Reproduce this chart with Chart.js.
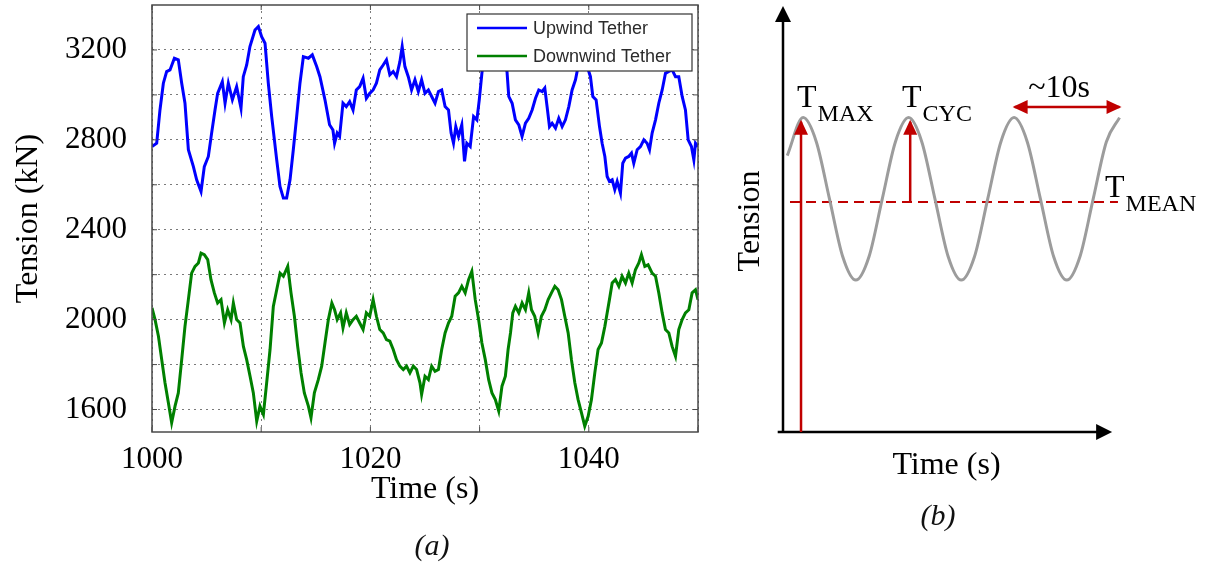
<!DOCTYPE html>
<html>
<head>
<meta charset="utf-8">
<title>Tether tension</title>
<script src="https://cdn.jsdelivr.net/npm/chart.js@4.4.1/dist/chart.umd.min.js"></script>
<style>
  body { margin: 0; background: #fff; }
  #wrap { position: relative; width: 1210px; height: 565px; }
  canvas { position: absolute; top: 0; }
  #tensionChart { left: 0; }
  #cycleChart { left: 720px; }
</style>
</head>
<body>
<div id="wrap">
  <canvas id="tensionChart" width="720" height="565"></canvas>
  <canvas id="cycleChart" width="490" height="565"></canvas>
</div>
<script>
// ---- (a) measured tether tension ----
const upTime = [
  1000.00, 1000.43, 1000.73, 1001.04, 1001.34, 1001.65, 1002.05, 1002.41, 1002.72, 1003.02,
  1003.33, 1003.79, 1004.09, 1004.49, 1004.79, 1005.16, 1005.46, 1005.77, 1006.01, 1006.44,
  1006.69, 1006.99, 1007.36, 1007.75, 1008.15, 1008.36, 1008.67, 1008.97, 1009.43, 1009.74,
  1010.04, 1010.35, 1010.65, 1010.96, 1011.42, 1011.72, 1012.03, 1012.33, 1012.64, 1012.94,
  1013.25, 1013.55, 1013.86, 1014.32, 1014.68, 1015.08, 1015.38, 1015.84, 1016.26, 1016.57,
  1016.72, 1016.96, 1017.18, 1017.49, 1017.79, 1018.10, 1018.41, 1018.71, 1019.02, 1019.33,
  1019.63, 1019.94, 1020.25, 1020.55, 1020.86, 1021.17, 1021.47, 1021.78, 1022.09, 1022.39,
  1022.70, 1022.91, 1023.16, 1023.47, 1023.77, 1024.08, 1024.39, 1024.69, 1025.00, 1025.31,
  1025.61, 1025.92, 1026.23, 1026.53, 1026.84, 1027.15, 1027.39, 1027.61, 1027.82, 1028.07,
  1028.37, 1028.62, 1028.83, 1029.14, 1029.45, 1029.75, 1029.97, 1030.21, 1030.46, 1030.90,
  1031.40, 1032.00, 1032.20, 1032.51, 1032.67, 1032.98, 1033.28, 1033.59, 1033.89, 1034.20,
  1034.50, 1034.81, 1035.12, 1035.42, 1035.73, 1035.97, 1036.18, 1036.40, 1036.64, 1036.95,
  1037.25, 1037.56, 1037.86, 1038.17, 1038.47, 1038.78, 1038.93, 1039.30, 1039.60, 1040.00,
  1040.15, 1040.37, 1040.67, 1040.98, 1041.22, 1041.47, 1041.68, 1041.89, 1042.14, 1042.38,
  1042.60, 1042.90, 1043.11, 1043.36, 1043.66, 1043.91, 1044.12, 1044.43, 1044.73, 1045.04,
  1045.34, 1045.56, 1045.80, 1046.11, 1046.41, 1046.72, 1047.02, 1047.33, 1047.63, 1047.94,
  1048.24, 1048.55, 1048.85, 1049.10, 1049.40, 1049.62, 1049.77, 1050.00
];
const upTension = [
  2770, 2785, 2933, 3052, 3104, 3111, 3163, 3156, 3052, 2963,
  2756, 2681, 2622, 2570, 2681, 2726, 2830, 2933, 3007, 3059,
  2963, 3052, 2978, 3037, 2941, 3081, 3133, 3215, 3289, 3304,
  3259, 3230, 3052, 2904, 2711, 2593, 2541, 2541, 2622, 2756,
  2904, 3052, 3170, 3163, 3178, 3126, 3081, 2978, 2867, 2844,
  2785, 2830, 2815, 2963, 2948, 2970, 2933, 3022, 3037, 3074,
  2985, 3007, 3022, 3052, 3111, 3133, 3156, 3089, 3104, 3081,
  3148, 3215, 3126, 3081, 3022, 3067, 3015, 3067, 3007, 3022,
  2993, 2963, 3015, 3022, 2948, 2933, 2830, 2785, 2859, 2815,
  2867, 2704, 2785, 2770, 2904, 2889, 2978, 3096, 3200, 3260,
  3240, 3180, 3150, 3104, 2993, 2963, 2889, 2867, 2815, 2874,
  2896, 2933, 2985, 3022, 3015, 3030, 2948, 2859, 2874, 2852,
  2896, 2859, 2889, 2948, 3022, 3067, 3104, 3190, 3170, 3104,
  3081, 2993, 2978, 2859, 2785, 2726, 2637, 2615, 2622, 2578,
  2615, 2563, 2696, 2719, 2726, 2741, 2696, 2756, 2770, 2800,
  2785, 2756, 2830, 2889, 2963, 3022, 3096, 3104, 3111, 3081,
  3081, 2993, 2933, 2800, 2770, 2711, 2785, 2770
];

const downTime = [
  1000.00, 1000.28, 1000.59, 1000.89, 1001.19, 1001.50, 1001.80, 1002.11, 1002.41, 1002.72,
  1003.02, 1003.33, 1003.63, 1003.94, 1004.25, 1004.49, 1004.79, 1005.10, 1005.40, 1005.71,
  1006.01, 1006.32, 1006.63, 1006.93, 1007.24, 1007.45, 1007.75, 1008.06, 1008.37, 1008.67,
  1008.98, 1009.28, 1009.59, 1009.89, 1010.20, 1010.50, 1010.81, 1011.11, 1011.42, 1011.73,
  1012.03, 1012.43, 1012.73, 1013.04, 1013.34, 1013.65, 1013.95, 1014.32, 1014.56, 1014.87,
  1015.23, 1015.54, 1015.84, 1016.15, 1016.47, 1016.72, 1016.96, 1017.27, 1017.49, 1017.79,
  1018.10, 1018.41, 1018.71, 1019.02, 1019.33, 1019.63, 1019.94, 1020.25, 1020.55, 1020.86,
  1021.17, 1021.47, 1021.78, 1022.09, 1022.39, 1022.70, 1023.01, 1023.31, 1023.62, 1023.93,
  1024.23, 1024.54, 1024.69, 1025.00, 1025.31, 1025.61, 1025.92, 1026.23, 1026.53, 1026.84,
  1027.15, 1027.45, 1027.76, 1028.07, 1028.37, 1028.68, 1028.99, 1029.29, 1029.60, 1029.91,
  1030.21, 1030.52, 1030.83, 1031.13, 1031.44, 1031.75, 1032.05, 1032.36, 1032.61, 1032.83,
  1033.04, 1033.28, 1033.59, 1033.89, 1034.20, 1034.50, 1034.75, 1035.05, 1035.36, 1035.66,
  1035.97, 1036.28, 1036.58, 1036.89, 1037.19, 1037.50, 1037.80, 1038.11, 1038.41, 1038.72,
  1039.02, 1039.33, 1039.63, 1039.94, 1040.24, 1040.55, 1040.85, 1041.16, 1041.47, 1041.68,
  1041.89, 1042.14, 1042.44, 1042.75, 1043.05, 1043.36, 1043.66, 1043.97, 1044.27, 1044.58,
  1044.82, 1045.13, 1045.43, 1045.80, 1046.11, 1046.41, 1046.72, 1047.02, 1047.33, 1047.63,
  1047.94, 1048.24, 1048.55, 1048.85, 1049.16, 1049.46, 1049.77, 1050.00
];
const downTension = [
  2052, 2000, 1926, 1822, 1719, 1630, 1541, 1615, 1674, 1822,
  1970, 2089, 2207, 2237, 2252, 2296, 2289, 2267, 2178, 2119,
  2074, 2089, 1985, 2044, 2000, 2074, 2000, 1985, 1881, 1822,
  1748, 1674, 1548, 1615, 1578, 1719, 1867, 2059, 2133, 2207,
  2193, 2237, 2119, 2015, 1881, 1763, 1674, 1615, 1563, 1674,
  1733, 1793, 1896, 2000, 2074, 2044, 2000, 2030, 1963, 2030,
  1978, 2000, 2015, 1985, 1956, 2030, 2015, 2089, 2015, 1956,
  1941, 1911, 1904, 1867, 1822, 1793, 1778, 1793, 1763, 1793,
  1778, 1719, 1667, 1748, 1733, 1793, 1770, 1778, 1867, 1941,
  1985, 2015, 2104, 2119, 2148, 2119, 2178, 2215, 2089, 2000,
  1896, 1822, 1733, 1674, 1644, 1593, 1704, 1748, 1867, 1941,
  2030, 2059, 2030, 2074, 2044, 2119, 2044, 2015, 1941, 2015,
  2044, 2089, 2119, 2148, 2133, 2089, 2015, 1941, 1822, 1719,
  1644, 1585, 1526, 1570, 1644, 1763, 1867, 1896, 1970, 2030,
  2089, 2163, 2178, 2148, 2193, 2163, 2207, 2163, 2222, 2252,
  2289, 2237, 2244, 2207, 2193, 2119, 2030, 1956, 1941, 1881,
  1837, 1956, 2000, 2030, 2044, 2119, 2133, 2089
];

const timeGrid = [1000, 1010, 1020, 1030, 1040, 1050];
const timeLabels = [1000, 1020, 1040];
const tensionGrid = [1600, 1800, 2000, 2200, 2400, 2600, 2800, 3000, 3200];
const tensionLabels = [1600, 2000, 2400, 2800, 3200];

// ---- (b) idealised tension cycle ----
const cycleTime = [
  0.4, 1.9, 3.14, 4.39, 5.63, 6.87, 8.12, 9.36, 10.61, 11.85, 13.09, 14.34, 15.58,
  16.82, 18.07, 19.31, 20.56, 21.8, 23.04, 24.29, 25.53, 26.77, 28.02, 29.26, 30.51, 31.75
];
const cycleTension = [
  6.55, 7.45, 6.88, 5.52, 4.16, 3.6, 4.16, 5.52, 6.88, 7.45, 6.88, 5.52, 4.16,
  3.6, 4.16, 5.52, 6.88, 7.45, 6.88, 5.52, 4.16, 3.6, 4.16, 5.52, 6.88, 7.45
];
const meanSpan = [0.66, 31.6];
const meanLevel = 5.45;
const peakLevel = 7.35;
const maxArrowTime = 1.7;
const cycArrowTime = 12.0;
const periodSpan = [21.85, 31.75];
const periodLevel = 7.7;
const axisEnd = 31.05;

const serif = "'Liberation Serif', 'DejaVu Serif', serif";
const sans = "'Liberation Sans', Arial, sans-serif";
const red = '#c00000';

const toPoints = (xs, ys) => xs.map((x, i) => ({ x: x, y: ys[i] }));

// fixed axis sizes, no extra room reserved for overhanging labels
const fixWidth = w => s => { s.width = w; s.paddingTop = 0; s.paddingBottom = 0; };
const fixHeight = h => s => { s.height = h; s.paddingLeft = 0; s.paddingRight = 0; };

// axis frame with small inward ticks on all four sides
const frameTicks = {
  id: 'frameTicks',
  afterDatasetsDraw(chart) {
    const { ctx, chartArea: a, scales: { x, y } } = chart;
    ctx.save();
    ctx.setLineDash([]);
    ctx.strokeStyle = '#4a4a4a';
    ctx.lineWidth = 1;
    ctx.beginPath();
    x.ticks.forEach(t => {
      const px = x.getPixelForValue(t.value);
      ctx.moveTo(px, a.bottom); ctx.lineTo(px, a.bottom - 5);
      ctx.moveTo(px, a.top); ctx.lineTo(px, a.top + 5);
    });
    y.ticks.forEach(t => {
      const py = y.getPixelForValue(t.value);
      ctx.moveTo(a.left, py); ctx.lineTo(a.left + 5, py);
      ctx.moveTo(a.right, py); ctx.lineTo(a.right - 5, py);
    });
    ctx.stroke();
    ctx.lineWidth = 1.5;
    ctx.strokeRect(a.left, a.top, a.right - a.left, a.bottom - a.top);
    ctx.restore();
  }
};

// boxed legend in the top right corner of the plot
const boxLegend = {
  id: 'boxLegend',
  afterDatasetsDraw(chart, args, opts) {
    const { ctx, chartArea: a } = chart;
    const w = opts.width, h = opts.height;
    const left = a.right - opts.right - w, top = a.top + opts.top;
    ctx.save();
    ctx.setLineDash([]);
    ctx.fillStyle = '#fff';
    ctx.fillRect(left, top, w, h);
    ctx.strokeStyle = '#333';
    ctx.lineWidth = 1.2;
    ctx.strokeRect(left, top, w, h);
    ctx.font = '18px ' + sans;
    ctx.textBaseline = 'middle';
    ctx.textAlign = 'left';
    chart.data.datasets.forEach((ds, i) => {
      const cy = top + 14 + i * 28;
      ctx.strokeStyle = ds.borderColor;
      ctx.lineWidth = 2.5;
      ctx.beginPath();
      ctx.moveTo(left + 10, cy);
      ctx.lineTo(left + 60, cy);
      ctx.stroke();
      ctx.fillStyle = '#2b2b2b';
      ctx.fillText(ds.label, left + 66, cy + 1);
    });
    ctx.restore();
  }
};

// italic panel caption
const caption = {
  id: 'caption',
  afterDraw(chart, args, opts) {
    const ctx = chart.ctx;
    ctx.save();
    ctx.font = 'italic 30px ' + serif;
    ctx.fillStyle = '#111';
    ctx.textAlign = 'center';
    ctx.textBaseline = 'middle';
    ctx.fillText(opts.text, opts.x, opts.y);
    ctx.restore();
  }
};

function drawHead(ctx, from, to, color, len, half) {
  const ang = Math.atan2(to.y - from.y, to.x - from.x);
  ctx.save();
  ctx.translate(to.x, to.y);
  ctx.rotate(ang);
  ctx.beginPath();
  ctx.moveTo(2, 0);
  ctx.lineTo(2 - len, -half);
  ctx.lineTo(2 - len, half);
  ctx.closePath();
  ctx.fillStyle = color;
  ctx.fill();
  ctx.restore();
}

// black axes with arrow tips
const axisArrows = {
  id: 'axisArrows',
  beforeDatasetsDraw(chart) {
    const { ctx, scales: { x, y } } = chart;
    const x0 = x.getPixelForValue(0), y0 = y.getPixelForValue(0);
    const top = y.getPixelForValue(y.max), tip = x.getPixelForValue(axisEnd);
    ctx.save();
    ctx.strokeStyle = '#000';
    ctx.lineWidth = 2.5;
    ctx.beginPath();
    ctx.moveTo(x0, y0 + 1);
    ctx.lineTo(x0, top + 10);
    ctx.moveTo(x.getPixelForValue(-0.5), y0);
    ctx.lineTo(tip - 10, y0);
    ctx.stroke();
    ctx.restore();
    drawHead(ctx, { x: x0, y: y0 }, { x: x0, y: top - 2 }, '#000', 16, 8);
    drawHead(ctx, { x: x0, y: y0 }, { x: tip - 2, y: y0 }, '#000', 16, 8);
  }
};

// arrow tips on the red annotation lines
const arrowHeads = {
  id: 'arrowHeads',
  afterDatasetsDraw(chart) {
    const ctx = chart.ctx;
    chart.data.datasets.forEach((ds, i) => {
      if (!ds.heads) return;
      const pts = chart.getDatasetMeta(i).data;
      const a = pts[0], b = pts[pts.length - 1];
      if (ds.heads.includes('end')) drawHead(ctx, a, b, ds.borderColor, 15, 7);
      if (ds.heads.includes('start')) drawHead(ctx, b, a, ds.borderColor, 15, 7);
    });
  }
};

// T labels with subscripts, placed in data units
const cycleLabels = {
  id: 'cycleLabels',
  afterDatasetsDraw(chart, args, opts) {
    const { ctx, scales: { x, y } } = chart;
    ctx.save();
    ctx.fillStyle = '#000';
    ctx.textBaseline = 'alphabetic';
    opts.items.forEach(l => {
      const px = x.getPixelForValue(l.t), py = y.getPixelForValue(l.v);
      ctx.font = '32px ' + serif;
      ctx.textAlign = l.align || 'left';
      ctx.fillText(l.main, px, py);
      if (l.sub) {
        const w = ctx.measureText(l.main).width;
        ctx.font = '24px ' + serif;
        ctx.textAlign = 'left';
        ctx.fillText(l.sub, px + w + 1, py + 14);
      }
    });
    ctx.restore();
  }
};

new Chart(document.getElementById('tensionChart'), {
  type: 'line',
  data: {
    datasets: [
      {
        label: 'Upwind Tether',
        data: toPoints(upTime, upTension),
        borderColor: '#0000ff',
        borderWidth: 3,
        pointRadius: 0,
        tension: 0
      },
      {
        label: 'Downwind Tether',
        data: toPoints(downTime, downTension),
        borderColor: '#008000',
        borderWidth: 3,
        pointRadius: 0,
        tension: 0
      }
    ]
  },
  options: {
    responsive: false,
    animation: false,
    events: [],
    layout: { padding: { top: 5, right: 22, left: 0, bottom: 0 } },
    scales: {
      x: {
        type: 'linear',
        min: 1000,
        max: 1050,
        afterBuildTicks: s => { s.ticks = timeGrid.map(v => ({ value: v })); },
        afterFit: fixHeight(133),
        grid: { color: '#7a7a7a', lineWidth: 1, drawTicks: false },
        border: { display: false, dash: [2, 4] },
        ticks: {
          padding: 9,
          maxRotation: 0,
          autoSkip: false,
          color: '#000',
          font: { family: serif, size: 31 },
          callback: v => timeLabels.includes(v) ? String(v) : ''
        },
        title: {
          display: true,
          text: 'Time (s)',
          color: '#000',
          font: { family: serif, size: 32 },
          padding: { top: 0, bottom: 56 }
        }
      },
      y: {
        type: 'linear',
        min: 1500,
        max: 3400,
        afterBuildTicks: s => { s.ticks = tensionGrid.map(v => ({ value: v })); },
        afterFit: fixWidth(152),
        grid: { color: '#7a7a7a', lineWidth: 1, drawTicks: false },
        border: { display: false, dash: [2, 4] },
        ticks: {
          padding: 25,
          autoSkip: false,
          color: '#000',
          font: { family: serif, size: 31 },
          callback: v => tensionLabels.includes(v) ? String(v) : ''
        },
        title: {
          display: true,
          text: 'Tension (kN)',
          color: '#000',
          font: { family: serif, size: 32 },
          padding: { top: 9, bottom: 0 }
        }
      }
    },
    plugins: {
      legend: { display: false },
      tooltip: { enabled: false },
      boxLegend: { width: 225, height: 57, right: 6, top: 9 },
      caption: { text: '(a)', x: 432, y: 547 }
    }
  },
  plugins: [frameTicks, boxLegend, caption]
});

new Chart(document.getElementById('cycleChart'), {
  type: 'line',
  data: {
    datasets: [
      {
        data: toPoints(cycleTime, cycleTension),
        borderColor: '#9c9c9c',
        borderWidth: 3,
        pointRadius: 0,
        cubicInterpolationMode: 'monotone',
        clip: false
      },
      {
        data: toPoints(meanSpan, [meanLevel, meanLevel]),
        borderColor: red,
        borderWidth: 2,
        borderDash: [10, 6],
        pointRadius: 0,
        clip: false
      },
      {
        data: toPoints([maxArrowTime, maxArrowTime], [0, peakLevel]),
        borderColor: red,
        borderWidth: 2.5,
        pointRadius: 0,
        heads: ['end']
      },
      {
        data: toPoints([cycArrowTime, cycArrowTime], [meanLevel, peakLevel]),
        borderColor: red,
        borderWidth: 2.5,
        pointRadius: 0,
        heads: ['end']
      },
      {
        data: toPoints(periodSpan, [periodLevel, periodLevel]),
        borderColor: red,
        borderWidth: 2.5,
        pointRadius: 0,
        clip: false,
        heads: ['start', 'end']
      }
    ]
  },
  options: {
    responsive: false,
    animation: false,
    events: [],
    layout: { padding: { top: 10, right: 100, left: 0, bottom: 0 } },
    scales: {
      x: {
        type: 'linear',
        min: 0,
        max: 30.85,
        afterFit: fixHeight(133),
        grid: { display: false },
        border: { display: false },
        ticks: { display: false },
        title: {
          display: true,
          text: 'Time (s)',
          color: '#000',
          font: { family: serif, size: 32 },
          padding: { top: 0, bottom: 80 }
        }
      },
      y: {
        type: 'linear',
        min: 0,
        max: 10,
        afterFit: fixWidth(63),
        grid: { display: false },
        border: { display: false },
        ticks: { display: false },
        title: {
          display: true,
          text: 'Tension',
          color: '#000',
          font: { family: serif, size: 32 },
          padding: { top: 11, bottom: 0 }
        }
      }
    },
    plugins: {
      legend: { display: false },
      tooltip: { enabled: false },
      cycleLabels: {
        items: [
          { main: 'T', sub: 'MAX', t: 1.32, v: 7.7 },
          { main: 'T', sub: 'CYC', t: 11.23, v: 7.7 },
          { main: 'T', sub: 'MEAN', t: 30.38, v: 5.57 },
          { main: '~10s', t: 26.04, v: 7.94, align: 'center' }
        ]
      },
      caption: { text: '(b)', x: 218, y: 517 }
    }
  },
  plugins: [axisArrows, arrowHeads, cycleLabels, caption]
});
</script>
</body>
</html>
